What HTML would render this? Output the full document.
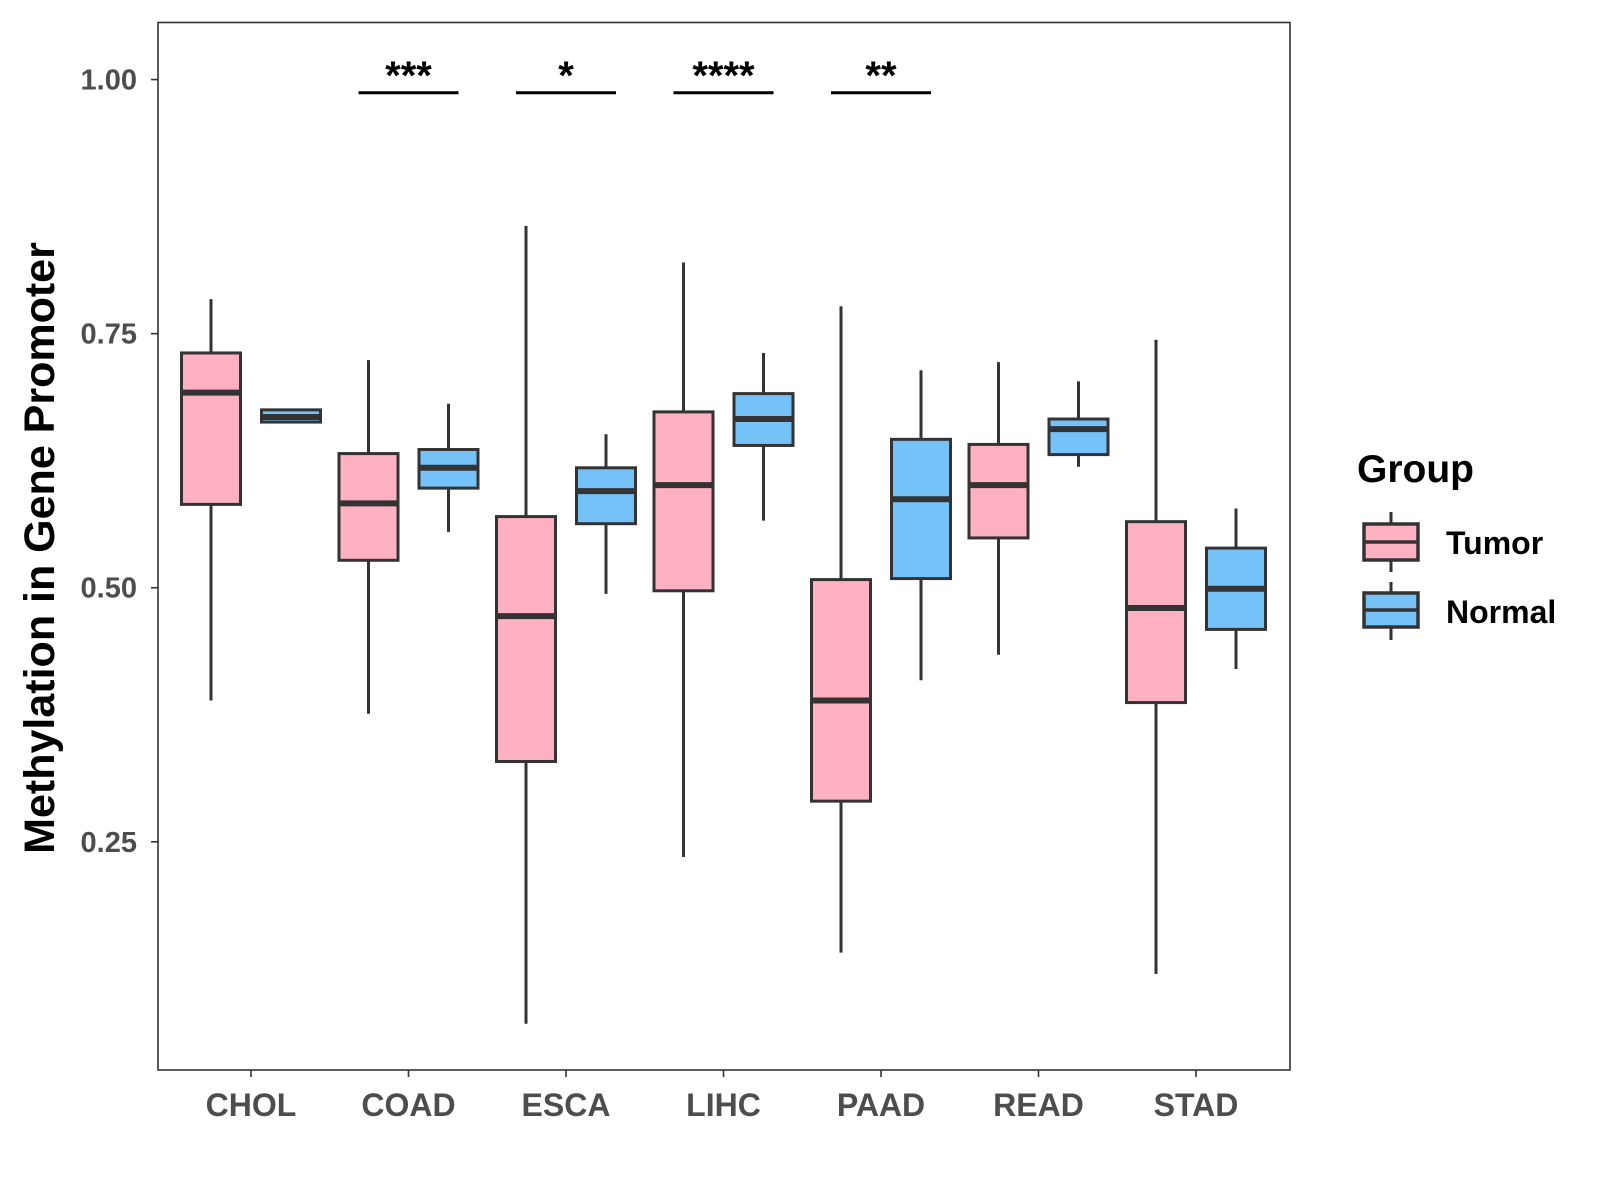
<!DOCTYPE html>
<html><head><meta charset="utf-8"><style>
html,body{margin:0;padding:0;background:#fff;}
svg{display:block;font-family:"Liberation Sans",Arial,sans-serif;}
</style></head><body>
<svg id="chart" width="1600" height="1200" viewBox="0 0 1600 1200">
<rect x="158" y="22.5" width="1132" height="1047.5" fill="#fff" stroke="#333" stroke-width="1.6"/>
<g id="yaxis"></g>
<g id="xaxis"></g>
<g id="boxes"></g>
<g id="sig"></g>
<text x="0" y="0" transform="translate(54,548) rotate(-90)" text-anchor="middle" font-size="43" font-weight="bold" fill="#000">Methylation in Gene Promoter</text>
<g>
<text x="1357" y="482" font-size="39" font-weight="bold" fill="#000">Group</text>
<g>
<line x1="1391" y1="512" x2="1391" y2="572" stroke="#333" stroke-width="3"/>
<rect x="1364" y="524" width="54" height="36" fill="#FFB0C1" stroke="#333" stroke-width="3.5"/>
<line x1="1364" y1="542" x2="1418" y2="542" stroke="#333" stroke-width="3.5"/>
<text x="1446" y="554" font-size="32" font-weight="bold" fill="#000">Tumor</text>
</g>
<g>
<line x1="1391" y1="582" x2="1391" y2="640" stroke="#333" stroke-width="3"/>
<rect x="1364" y="593" width="54" height="34" fill="#74C2F8" stroke="#333" stroke-width="3.5"/>
<line x1="1364" y1="610" x2="1418" y2="610" stroke="#333" stroke-width="3.5"/>
<text x="1446" y="623" font-size="32" font-weight="bold" fill="#000">Normal</text>
</g>
</g>
</svg>
<script>
const categories=["CHOL","COAD","ESCA","LIHC","PAAD","READ","STAD"];
// [whiskerLow, Q1, median, Q3, whiskerHigh]
const tumorStats=[[0.389,0.582,0.692,0.731,0.784],[0.376,0.527,0.583,0.632,0.724],[0.071,0.329,0.472,0.570,0.856],[0.235,0.497,0.601,0.673,0.820],[0.141,0.290,0.389,0.508,0.777],[0.434,0.549,0.601,0.641,0.722],[0.120,0.387,0.480,0.565,0.744]];
const normalStats=[[0.663,0.663,0.668,0.675,0.675],[0.555,0.598,0.618,0.636,0.681],[0.494,0.563,0.595,0.618,0.651],[0.566,0.640,0.666,0.691,0.731],[0.409,0.509,0.587,0.646,0.714],[0.619,0.631,0.656,0.666,0.703],[0.420,0.459,0.499,0.539,0.578]];
const yTicks=[0.25,0.50,0.75,1.00];
const yTickLabels=["0.25","0.50","0.75","1.00"];
const sigCategories=["COAD","ESCA","LIHC","PAAD"];
const sigLabels=["***","*","****","**"];
const sigLevel=0.987;

const NS="http://www.w3.org/2000/svg";
const y0=841.8, pxPer=1016.3;
function yScale(v){return y0-(v-0.25)*pxPer;}
function xScale(i){return 251+i*157.5;}
function mk(tag,attrs,parent){const e=document.createElementNS(NS,tag);for(const k in attrs)e.setAttribute(k,attrs[k]);parent.appendChild(e);return e;}

const ya=document.getElementById('yaxis');
yTicks.forEach((t,i)=>{
  const y=yScale(t);
  const l=mk('line',{x1:151,x2:158,y1:y,y2:y,stroke:'#333','stroke-width':1.6},ya);
  
  
  const tx=mk('text',{x:137,y:y+10,'text-anchor':'end','font-size':29,'font-weight':'bold',fill:'#4d4d4d'},ya);
  tx.textContent=yTickLabels[i];
  
  
});
const xa=document.getElementById('xaxis');
categories.forEach((c,i)=>{
  const x=xScale(i);
  const l=mk('line',{x1:x,x2:x,y1:1070,y2:1077,stroke:'#333','stroke-width':1.6},xa);
  
  
  const tx=mk('text',{x:x,y:1116,'text-anchor':'middle','font-size':32,'font-weight':'bold',fill:'#4d4d4d'},xa);
  tx.textContent=c;
  
  
});
const bg=document.getElementById('boxes');
function drawBox(s,cx,fill,name){
  const g=mk('g',{},bg);
  
  
  const w=59;
  mk('line',{x1:cx,x2:cx,y1:yScale(s[0]),y2:yScale(s[4]),stroke:'#333','stroke-width':3},g);
  mk('rect',{x:cx-w/2,y:yScale(s[3]),width:w,height:yScale(s[1])-yScale(s[3]),fill:fill,stroke:'#333','stroke-width':3},g);
  mk('line',{x1:cx-w/2,x2:cx+w/2,y1:yScale(s[2]),y2:yScale(s[2]),stroke:'#333','stroke-width':6},g);
}
categories.forEach((c,i)=>{
  drawBox(tumorStats[i],xScale(i)-40,'#FFB0C1','box-tumor-'+c.toLowerCase());
  drawBox(normalStats[i],xScale(i)+40,'#74C2F8','box-normal-'+c.toLowerCase());
});
const sg=document.getElementById('sig');
sigCategories.forEach((c,k)=>{
  const i=categories.indexOf(c);
  const x=xScale(i), y=yScale(sigLevel);
  const l=mk('line',{x1:x-50,x2:x+50,y1:y,y2:y,stroke:'#000','stroke-width':3},sg);
  
  
  const t=mk('text',{x:x,y:y-4,'text-anchor':'middle','font-size':40,'font-weight':'bold',fill:'#000'},sg);
  t.textContent=sigLabels[k];
  
  
});
</script>
</body></html>
